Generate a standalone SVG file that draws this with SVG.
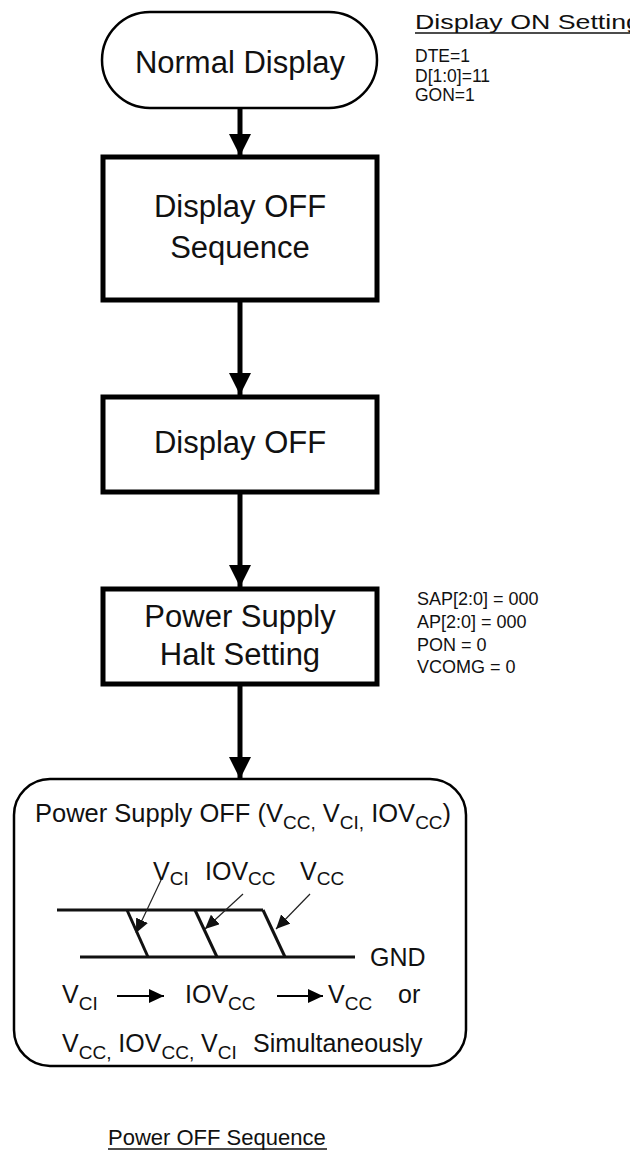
<svg xmlns="http://www.w3.org/2000/svg" width="630" height="1153" viewBox="0 0 630 1153">
<style>
text{font-family:"Liberation Sans",Arial,sans-serif;fill:#111}
.big{font-size:31px;text-anchor:middle}
.in{font-size:25px}
.sm{font-size:17.5px}
.note{font-size:18px}
.box{fill:#fff;stroke:#000;stroke-width:5}
.term{fill:#fff;stroke:#000;stroke-width:2.5}
.conn{stroke:#000;stroke-width:5;fill:none}
.wave{stroke:#111;stroke-width:3;fill:none}
.thin{stroke:#222;stroke-width:1.2;fill:none}
.arr2{stroke:#000;stroke-width:2;fill:none}
</style>
<defs>
<marker id="ah" markerUnits="userSpaceOnUse" markerWidth="24" markerHeight="22" refX="22" refY="11" orient="auto">
<path d="M0,0 L22,11 L0,22 Z" fill="#000"/>
</marker>
<marker id="ahs" markerUnits="userSpaceOnUse" markerWidth="16" markerHeight="14" refX="15" refY="7" orient="auto">
<path d="M0,0 L15,7 L0,14 Z" fill="#000"/>
</marker>
<marker id="aht" markerUnits="userSpaceOnUse" markerWidth="15" markerHeight="13" refX="14" refY="6.5" orient="auto">
<path d="M0,0 L14,6.5 L0,13 Z" fill="#111"/>
</marker>
</defs>
<rect width="630" height="1153" fill="#fff"/>

<g id="connectors">
<line class="conn" x1="240" y1="108" x2="240" y2="156" marker-end="url(#ah)"/>
<line class="conn" x1="240" y1="300" x2="240" y2="395" marker-end="url(#ah)"/>
<line class="conn" x1="240" y1="492" x2="240" y2="587" marker-end="url(#ah)"/>
<line class="conn" x1="240" y1="684" x2="240" y2="779" marker-end="url(#ah)"/>
</g>

<g id="normal-display">
<rect class="term" x="102" y="12" width="275" height="96" rx="48" ry="48"/>
<text class="big" x="240" y="73">Normal Display</text>
</g>

<g id="display-on-setting">
<text x="415" y="29" font-size="21" textLength="226" lengthAdjust="spacingAndGlyphs">Display ON Setting</text>
<line x1="415" y1="33" x2="630" y2="33" stroke="#111" stroke-width="1.5"/>
<text class="sm" x="415" y="62">DTE=1</text>
<text class="sm" x="415" y="82">D[1:0]=11</text>
<text class="sm" x="415" y="101">GON=1</text>
</g>

<g id="display-off-sequence">
<rect class="box" x="103" y="157" width="274" height="143"/>
<text class="big" x="240" y="217">Display OFF</text>
<text class="big" x="240" y="258">Sequence</text>
</g>

<g id="display-off">
<rect class="box" x="103" y="397" width="274" height="95"/>
<text class="big" x="240" y="453">Display OFF</text>
</g>

<g id="power-supply-halt">
<rect class="box" x="103" y="589" width="274" height="95"/>
<text class="big" x="240" y="627">Power Supply</text>
<text class="big" x="240" y="665">Halt Setting</text>
</g>

<g id="halt-notes">
<text class="note" x="417" y="605">SAP[2:0] = 000</text>
<text class="note" x="417" y="628">AP[2:0] = 000</text>
<text class="note" x="417" y="651">PON = 0</text>
<text class="note" x="417" y="673">VCOMG = 0</text>
</g>

<g id="power-supply-off">
<rect class="term" x="14" y="779" width="452" height="287" rx="36" ry="36"/>
<text x="35" y="822" font-size="25.5">Power Supply OFF (V<tspan font-size="19" dy="7">CC</tspan><tspan font-size="19">,</tspan><tspan dy="-7"> V</tspan><tspan font-size="19" dy="7">CI</tspan><tspan font-size="19">,</tspan><tspan dy="-7"> IOV</tspan><tspan font-size="19" dy="7">CC</tspan><tspan dy="-7">)</tspan></text>

<line class="wave" x1="57" y1="910" x2="263" y2="910"/>
<line class="wave" x1="80" y1="957" x2="355" y2="957"/>
<line class="wave" x1="127" y1="910" x2="148" y2="957"/>
<line class="wave" x1="195" y1="910" x2="217" y2="957"/>
<line class="wave" x1="263" y1="910" x2="285" y2="957"/>

<line class="thin" x1="162" y1="878" x2="136" y2="933" marker-end="url(#aht)"/>
<line class="thin" x1="243" y1="894" x2="205" y2="929" marker-end="url(#aht)"/>
<line class="thin" x1="310" y1="894" x2="276" y2="929" marker-end="url(#aht)"/>

<text x="153" y="880" font-size="25">V<tspan font-size="19" dy="5">CI</tspan></text>
<text x="205" y="880" font-size="25">IOV<tspan font-size="19" dy="5">CC</tspan></text>
<text x="300" y="880" font-size="25">V<tspan font-size="19" dy="5">CC</tspan></text>

<text class="in" x="370" y="966">GND</text>

<text class="in" x="62" y="1003">V<tspan font-size="19" dy="7">CI</tspan></text>
<line class="arr2" x1="117" y1="996" x2="164" y2="996" marker-end="url(#ahs)"/>
<text class="in" x="185" y="1003">IOV<tspan font-size="19" dy="7">CC</tspan></text>
<line class="arr2" x1="277" y1="996" x2="323" y2="996" marker-end="url(#ahs)"/>
<text class="in" x="328" y="1003">V<tspan font-size="19" dy="7">CC</tspan></text>
<text class="in" x="398" y="1003">or</text>

<text class="in" x="62" y="1052">V<tspan font-size="19" dy="7">CC,</tspan><tspan dy="-7"> IOV</tspan><tspan font-size="19" dy="7">CC,</tspan><tspan dy="-7"> V</tspan><tspan font-size="19" dy="7">CI</tspan></text>
<text class="in" x="253" y="1052">Simultaneously</text>
</g>

<g id="caption">
<text x="108" y="1145" font-size="22">Power OFF Sequence</text>
<line x1="108" y1="1149" x2="327" y2="1149" stroke="#111" stroke-width="1.5"/>
</g>
</svg>
